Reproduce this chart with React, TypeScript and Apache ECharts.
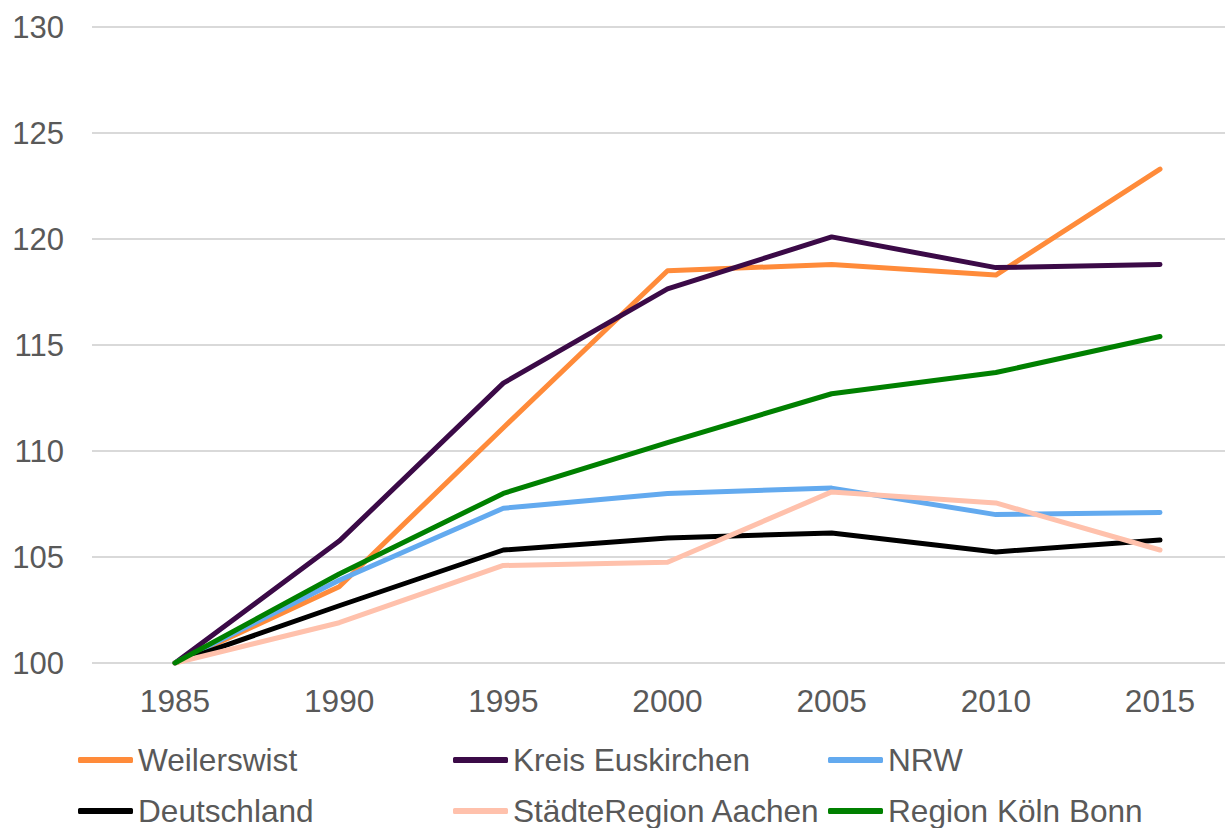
import React, { useEffect, useRef } from "react";
import * as echarts from "echarts";

const years = ["1985", "1990", "1995", "2000", "2005", "2010", "2015"];
const weilerswist = [100, 103.6, 111.1, 118.5, 118.8, 118.3, 123.3];
const kreisEuskirchen = [100, 105.75, 113.2, 117.65, 120.1, 118.65, 118.8];
const nrw = [100, 103.9, 107.3, 108.0, 108.25, 107.0, 107.1];
const deutschland = [100, 102.7, 105.33, 105.9, 106.13, 105.24, 105.8];
const aachen = [100, 101.9, 104.6, 104.75, 108.07, 107.55, 105.33];
const koelnBonn = [100, 104.2, 108.0, 110.4, 112.7, 113.7, 115.4];
const yTicks = { min: 100, max: 130, interval: 5 };

const seriesNames = [
  "Weilerswist",
  "Kreis Euskirchen",
  "NRW",
  "Deutschland",
  "StädteRegion Aachen",
  "Region Köln Bonn",
];
const seriesData = [weilerswist, kreisEuskirchen, nrw, deutschland, aachen, koelnBonn];
const colors = ["#FF8B3A", "#3B0A47", "#63AAEF", "#000000", "#FFC1AC", "#008000"];

const FONT = "'Liberation Sans', Arial, sans-serif";
const TEXT = "#595959";

export default function App() {
  const ref = useRef<HTMLDivElement>(null);
  useEffect(() => {
    document.body.style.margin = "0";
    const chart = echarts.init(ref.current!, null, { renderer: "svg" });
    const legendPos = [
      [78, 744],
      [453, 744],
      [828, 744],
      [78, 795],
      [453, 795],
      [828, 795],
    ];
    chart.setOption({
      animation: false,
      color: colors,
      grid: [
        { left: 92, right: 0, top: 27, height: 636, containLabel: false },
        { left: 175, right: 65, top: 27, height: 636, containLabel: false },
      ],
      legend: seriesNames.map((n, i) => ({
        data: [n],
        left: legendPos[i][0],
        top: legendPos[i][1],
        padding: 0,
        icon: "roundRect",
        itemWidth: 55,
        itemHeight: 6,
        itemGap: 0,
        textStyle: { fontFamily: FONT, fontSize: 31.6, color: TEXT, padding: [0, 0, 0, 0] },
      })),
      xAxis: [
        {
          gridIndex: 0,
          type: "category",
          data: years,
          show: false,
        },
        {
          gridIndex: 1,
          type: "category",
          data: years,
          boundaryGap: false,
          axisLine: { show: false },
          axisTick: { show: false },
          splitLine: { show: false },
          axisLabel: { fontFamily: FONT, fontSize: 31.6, color: TEXT, margin: 22 },
        },
      ],
      yAxis: [
        {
          gridIndex: 0,
          type: "value",
          ...yTicks,
          axisLine: { show: false },
          axisTick: { show: false },
          splitLine: { lineStyle: { color: "#d9d9d9", width: 2 } },
          axisLabel: { fontFamily: FONT, fontSize: 31, color: TEXT, margin: 28 },
        },
        {
          gridIndex: 1,
          type: "value",
          ...yTicks,
          show: false,
          splitLine: { show: false },
        },
      ],
      series: seriesNames.map((n, i) => ({
        name: n,
        type: "line",
        xAxisIndex: 1,
        yAxisIndex: 1,
        data: seriesData[i],
        symbol: "none",
        lineStyle: { width: 5, color: colors[i], cap: "round", join: "round" },
        itemStyle: { color: colors[i] },
      })),
    });
    return () => chart.dispose();
  }, []);
  return <div ref={ref} style={{ width: 1225, height: 828 }} />;
}
